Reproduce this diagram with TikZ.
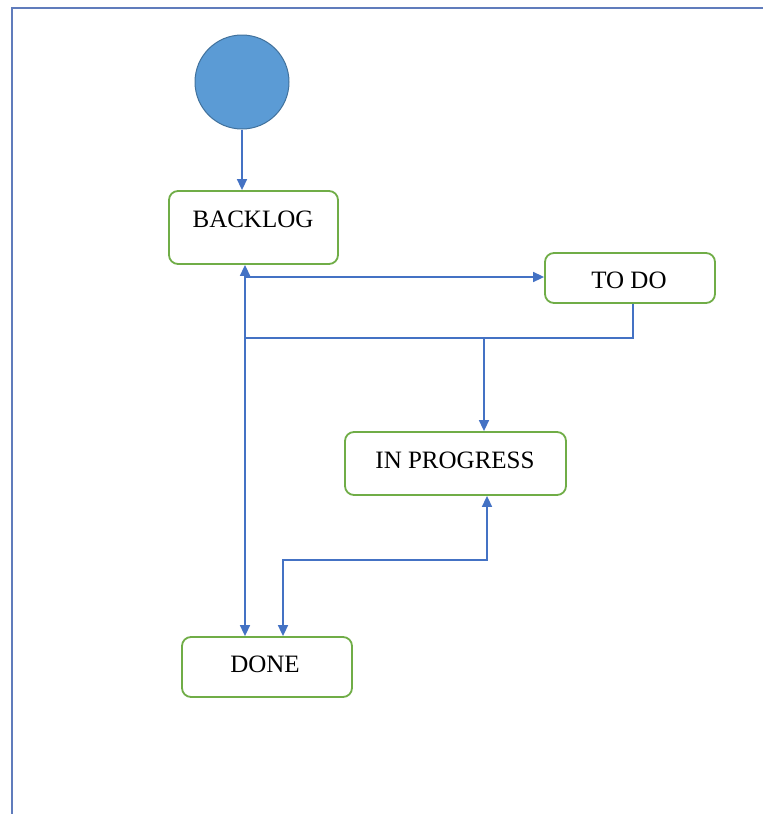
\documentclass[tikz,border=0pt]{standalone}
\usepackage{fontspec}
\setmainfont{Liberation Serif}
\usetikzlibrary{arrows.meta}
\definecolor{lineblue}{RGB}{68,114,196}
\definecolor{framec}{RGB}{96,124,188}
\definecolor{boxgreen}{RGB}{112,173,71}
\definecolor{startfill}{RGB}{91,155,213}
\definecolor{startdraw}{RGB}{65,113,156}
\begin{document}
\begin{tikzpicture}[x=1pt,y=-1pt,
  statebox/.style={draw=boxgreen,line width=1.8pt,rounded corners=9pt,inner sep=0pt,fill=white},
  lbl/.style={font=\fontsize{25}{29}\selectfont,inner sep=0pt,anchor=center},
  conn/.style={draw=lineblue,line width=1.6pt,-{Triangle[length=11pt,width=10pt]}},
  conn2/.style={draw=lineblue,line width=1.6pt,{Triangle[length=11pt,width=10pt]}-{Triangle[length=11pt,width=10pt]}},
  plain/.style={draw=lineblue,line width=1.6pt}]
\useasboundingbox (0,0) rectangle (763,814);
% frame
\draw[framec,line width=1.8pt] (12,814) -- (12,8) -- (763,8);
% start
\node (start) [circle,fill=startfill,draw=startdraw,line width=1pt,minimum size=94pt,inner sep=0pt] at (242,82) {};
% boxes
\node (backlog) [statebox,minimum width=169pt,minimum height=73pt] at (253.5,227.5) {};
\node (todo) [statebox,minimum width=170pt,minimum height=50pt] at (630,278) {};
\node (inprog) [statebox,minimum width=221pt,minimum height=63pt] at (455.5,463.5) {};
\node (done) [statebox,minimum width=170pt,minimum height=60pt] at (267,667) {};
% labels
\node (backlogT) [lbl] at (253,219) {BACKLOG};
\node (todoT) [lbl] at (629,280) {TO DO};
\node (inprogT) [lbl] at (455,460) {IN PROGRESS};
\node (doneT) [lbl] at (265,664) {DONE};
% coordinates
\coordinate (spine) at (245,277);
\coordinate (s2) at (245,338);
\coordinate (k1) at (484,338);
\coordinate (t1) at (633,338);
\coordinate (ip1) at (487,560);
\coordinate (dn1) at (283,560);
% connectors
\draw[conn] (start.south) -- (start.south |- backlog.north);
\draw[conn2] (backlog.south -| spine) -- (done.north -| spine);
\draw[conn] (spine) -- (todo.west |- spine);
\draw[plain] (s2) -- (k1);
\draw[conn] (todo.south -| t1) -- (t1) -- (k1) -- (k1 |- inprog.north);
\draw[conn2] (inprog.south -| ip1) -- (ip1) -- (dn1) -- (dn1 |- done.north);
\end{tikzpicture}
\end{document}
